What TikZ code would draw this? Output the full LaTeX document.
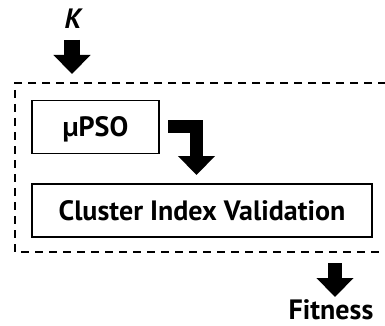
\documentclass[tikz,border=0pt]{standalone}
\usepackage{fontspec}
\setmainfont{PT Sans}
\usetikzlibrary{arrows.meta}
\begin{document}
\begin{tikzpicture}[x=1pt,y=-1pt,
  txt/.style={font=\bfseries\fontsize{28}{32}\selectfont,text height=19.6pt,text depth=0pt},
  blockbox/.style={txt,draw,line width=1.8pt,minimum height=53pt,inner sep=0pt},
  lbl/.style={txt,inner sep=0pt},
  fatarrow/.style={line width=14pt,line join=miter,line cap=butt,
    -{Triangle[width=36pt,length=19pt]}},
  groupframe/.style={draw,line width=1.8pt,dash pattern=on 8pt off 6pt}]
\clip (0,0) rectangle (385,326);
\useasboundingbox (0,0) rectangle (385,326);
% dashed frame around the two stages (open to the right)
\draw[groupframe] (400,83) -- (15,83) -- (15,252) -- (400,252);
\node[lbl,font=\bfseries\itshape\fontsize{28}{32}\selectfont] (k) at (73,19) {K};
\node[blockbox,minimum width=127pt] (pso) at (95.5,127) {µPSO};
\node[blockbox,minimum width=340pt] (civ) at (202,210.5) {Cluster Index Validation};
\node[lbl] (fit) at (331,310) {Fitness};
% input, inner and output arrows
\coordinate (kin) at (72,40);
\coordinate (kout) at (72,74);
\draw[fatarrow,line width=16pt] (kin) -- (kout);
\coordinate (e0) at (168,126.5);
\coordinate (e1) at (196.5,175);
\draw[fatarrow,line width=13pt] (e0) -| (e1);
\coordinate (fin) at (335,263);
\coordinate (fout) at (335,297);
\draw[fatarrow] (fin) -- (fout);
\end{tikzpicture}
\end{document}
